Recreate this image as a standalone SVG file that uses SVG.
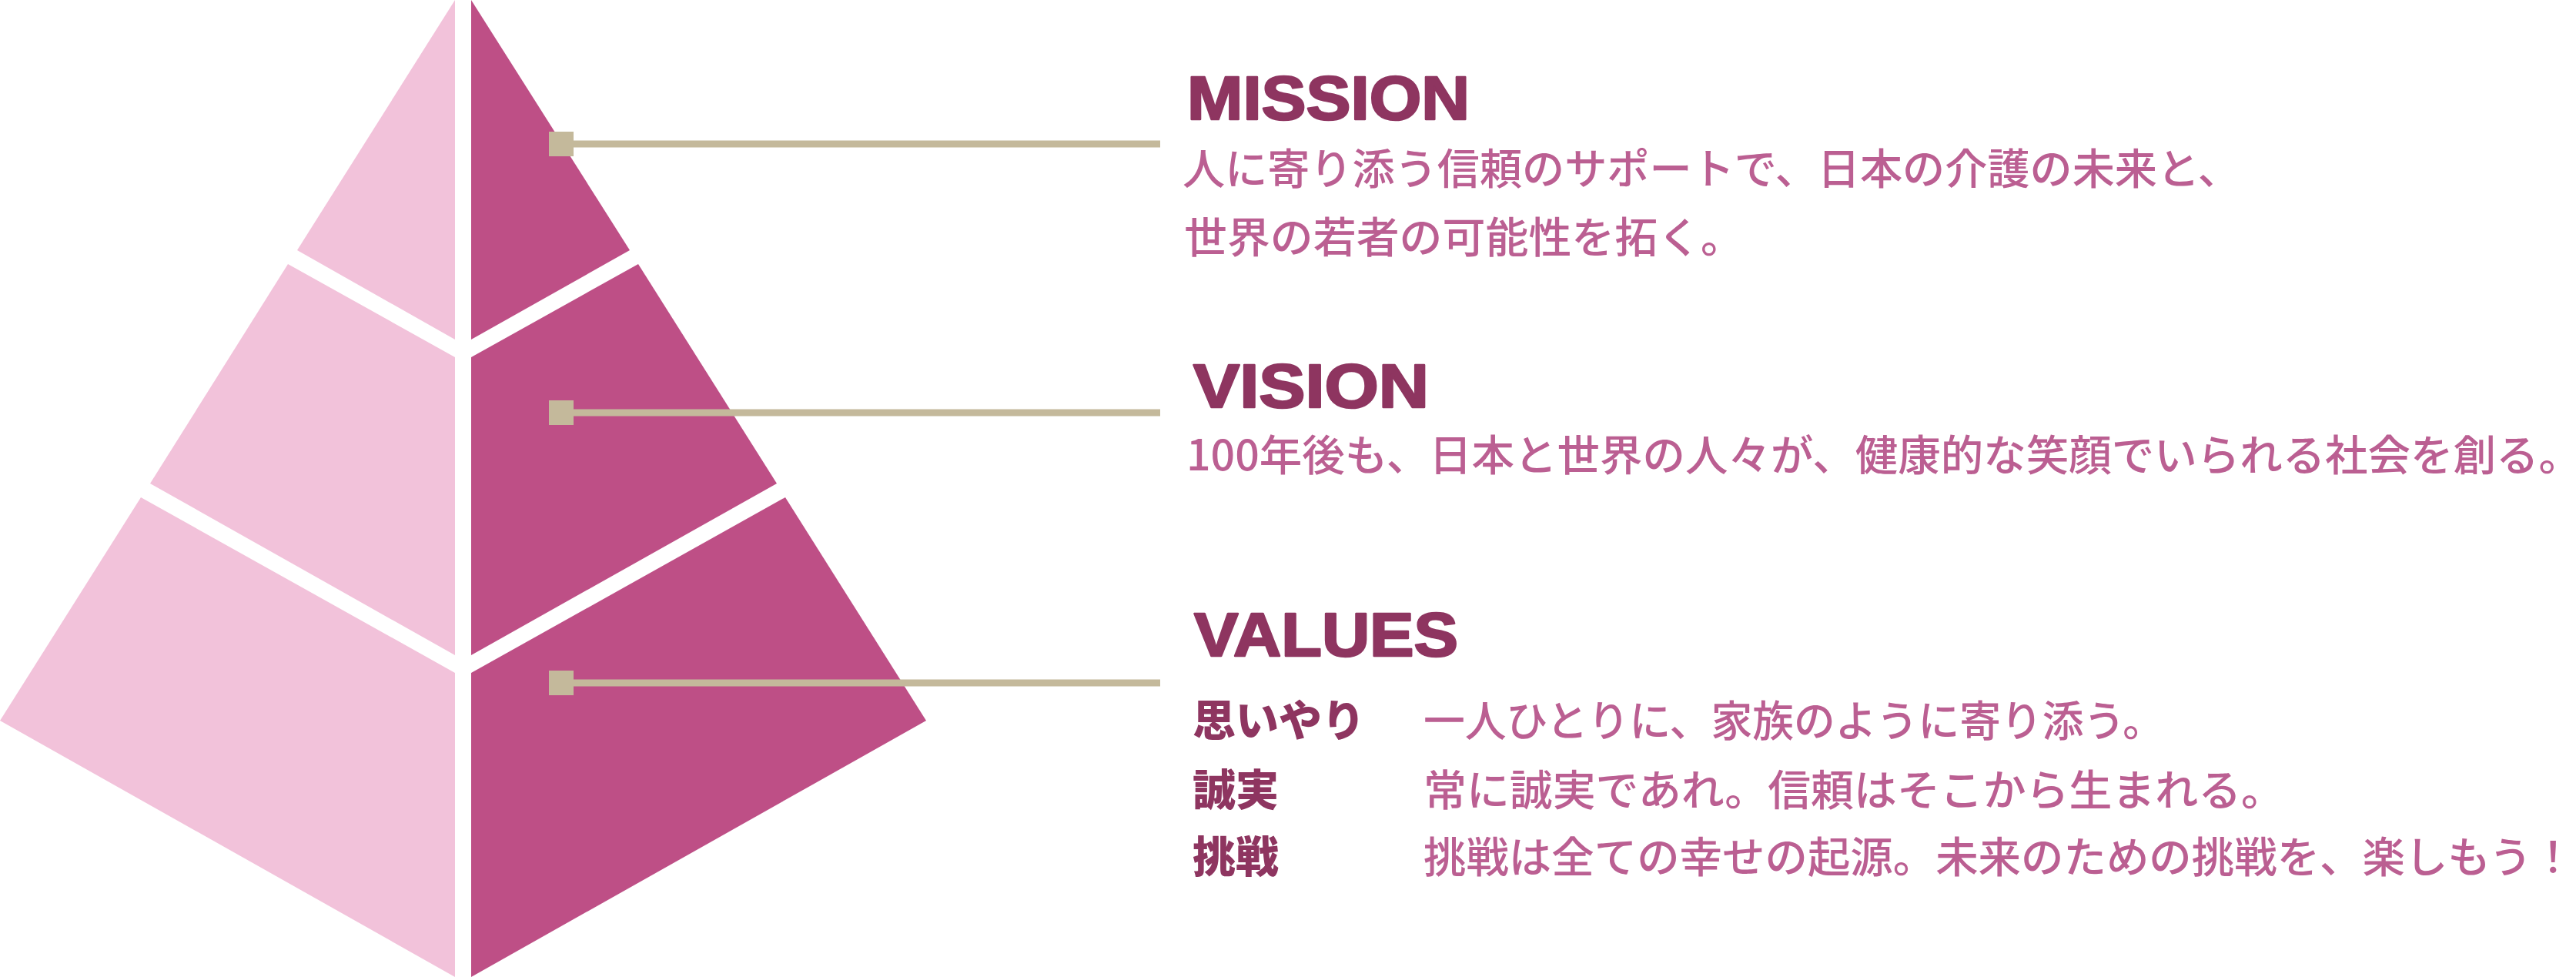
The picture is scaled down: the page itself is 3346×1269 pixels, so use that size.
<svg xmlns="http://www.w3.org/2000/svg" width="3346" height="1269" viewBox="0 0 3346 1269">
  <style>
    .lt { fill: #F2C2DA; }
    .dk { fill: #BE4F86; }
    .conn { stroke: #C4B99B; stroke-width: 9; fill: none; }
    .sq { fill: #C4B99B; }
    .hd { font-family: "Liberation Sans", Arial, sans-serif; font-weight: 700; font-size: 80px; fill: #8E3560; stroke: #8E3560; stroke-width: 2.5px; stroke-linejoin: round; }
    .jp { font-family: "Noto Sans CJK JP", "Noto Sans", sans-serif; font-size: 55px; font-weight: 500; fill: #BB5F92; }
    .jb { font-family: "Noto Sans CJK JP", "Noto Sans", sans-serif; font-size: 56px; font-weight: 900; fill: #8E3560; }
  </style>
  <rect width="3346" height="1269" fill="#FFFFFF"/>
  <g id="tier-mission">
    <polygon class="lt" points="591,0 386,325 591,441"/>
    <polygon class="dk" points="612,0 818,325 612,441"/>
  </g>
  <g id="tier-vision">
    <polygon class="lt" points="374,343 591,464 591,851 195,628"/>
    <polygon class="dk" points="829,343 612,464 612,851 1009,628"/>
  </g>
  <g id="tier-values">
    <polygon class="lt" points="183,646 591,874 591,1269 0,936"/>
    <polygon class="dk" points="1020,646 612,874 612,1269 1203,936"/>
  </g>
  <g id="connectors">
    <line class="conn" x1="745" y1="187" x2="1507" y2="187"/>
    <rect class="sq" x="713" y="171" width="32" height="32"/>
    <line class="conn" x1="745" y1="536" x2="1507" y2="536"/>
    <rect class="sq" x="713" y="520" width="32" height="32"/>
    <line class="conn" x1="745" y1="887" x2="1507" y2="887"/>
    <rect class="sq" x="713" y="871" width="32" height="32"/>
  </g>
  <g id="mission">
    <text class="hd" x="1542" y="155" textLength="367" lengthAdjust="spacingAndGlyphs">MISSION</text>
    <text class="jp" x="1536" y="239" textLength="1374" lengthAdjust="spacingAndGlyphs">人に寄り添う信頼のサポートで、日本の介護の未来と、</text>
    <text class="jp" x="1538" y="328" textLength="727" lengthAdjust="spacingAndGlyphs">世界の若者の可能性を拓く。</text>
  </g>
  <g id="vision">
    <text class="hd" x="1550" y="529" textLength="306" lengthAdjust="spacingAndGlyphs">VISION</text>
    <text class="jp" x="1541" y="611" textLength="1812" lengthAdjust="spacingAndGlyphs">100年後も、日本と世界の人々が、健康的な笑顔でいられる社会を創る。</text>
  </g>
  <g id="values">
    <text class="hd" x="1551" y="852" textLength="343" lengthAdjust="spacingAndGlyphs">VALUES</text>
    <text class="jb" x="1549" y="956">思いやり</text>
    <text class="jp" x="1849" y="956" textLength="962" lengthAdjust="spacingAndGlyphs">一人ひとりに、家族のように寄り添う。</text>
    <text class="jb" x="1549" y="1046">誠実</text>
    <text class="jp" x="1849" y="1046" textLength="1118" lengthAdjust="spacingAndGlyphs">常に誠実であれ。信頼はそこから生まれる。</text>
    <text class="jb" x="1549" y="1133">挑戦</text>
    <text class="jp" x="1849" y="1133" textLength="1495" lengthAdjust="spacingAndGlyphs">挑戦は全ての幸せの起源。未来のための挑戦を、楽しもう！</text>
  </g>
</svg>
